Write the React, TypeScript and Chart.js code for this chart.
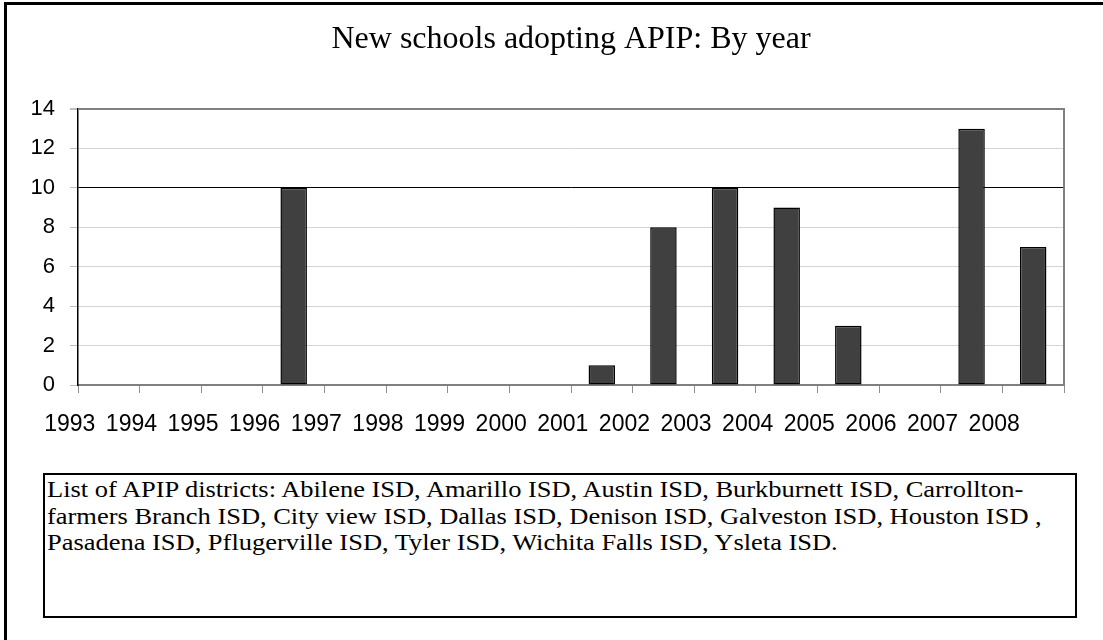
import React, { useEffect, useRef } from "react";
import { Chart, registerables } from "chart.js";

Chart.register(...registerables);

const TITLE = "New schools adopting APIP: By year";
const YEARS = ["1993", "1994", "1995", "1996", "1997", "1998", "1999", "2000", "2001", "2002", "2003", "2004", "2005", "2006", "2007", "2008"];
const NEW_SCHOOLS = [0, 0, 0, 10, 0, 0, 0, 0, 1, 8, 10, 9, 3, 0, 13, 7];
const Y_MIN = 0;
const Y_MAX = 14;
const Y_STEP = 2;
const HIGHLIGHT_LINE = 10;
const NOTE_LINES = [
  "List of APIP districts: Abilene ISD, Amarillo ISD, Austin ISD, Burkburnett ISD, Carrollton-",
  "farmers Branch ISD, City view ISD, Dallas ISD, Denison ISD, Galveston ISD, Houston ISD ,",
  "Pasadena ISD, Pflugerville ISD, Tyler ISD, Wichita Falls ISD, Ysleta ISD.",
];

const plotBorder = {
  id: "plotBorder",
  beforeDatasetsDraw(chart: any) {
    const { ctx, chartArea } = chart;
    ctx.save();
    ctx.strokeStyle = "#808080";
    ctx.lineWidth = 2;
    ctx.beginPath();
    ctx.moveTo(chartArea.left, chartArea.top);
    ctx.lineTo(chartArea.right, chartArea.top);
    ctx.lineTo(chartArea.right, chartArea.bottom);
    ctx.stroke();
    ctx.restore();
  },
};

export default function App() {
  const ref = useRef<HTMLCanvasElement | null>(null);

  useEffect(() => {
    if (!ref.current) return;
    const chart = new Chart(ref.current, {
      type: "bar",
      data: {
        labels: YEARS,
        datasets: [
          {
            data: NEW_SCHOOLS,
            backgroundColor: "#404040",
            borderColor: "#000000",
            borderWidth: (c: any) => (c.raw === 0 ? 0 : 1.5),
            borderSkipped: false,
            barPercentage: 0.43,
            categoryPercentage: 1,
          },
        ],
      },
      options: {
        responsive: false,
        animation: false,
        layout: { padding: { left: 0, right: 39, top: 0, bottom: 0 } },
        plugins: {
          legend: { display: false },
          tooltip: { enabled: false },
          title: {
            display: true,
            text: TITLE,
            fullSize: false,
            color: "#000",
            font: { family: "'Liberation Serif', 'Times New Roman', serif", size: 32, weight: "normal", lineHeight: 1.2 },
            padding: { top: 20, bottom: 50.6 },
          },
        },
        scales: {
          x: {
            offset: true,
            grid: {
              display: true,
              drawOnChartArea: false,
              drawTicks: true,
              tickLength: 8,
              offset: true,
              tickColor: "#909090",
            },
            border: { display: true, color: "#808080", width: 2 },
            ticks: {
              color: "#000",
              font: { family: "'Liberation Sans', Arial, sans-serif", size: 23 },
              padding: 18,
              labelOffset: -39,
              maxRotation: 0,
              autoSkip: false,
            },
            afterFit: (s: any) => {
              s.height = 85;
            },
          },
          y: {
            min: Y_MIN,
            max: Y_MAX,
            grid: {
              drawTicks: true,
              tickLength: 8,
              color: (c: any) =>
                c.tick && c.tick.value === HIGHLIGHT_LINE ? "#000000" : c.tick && c.tick.value === Y_MAX ? "#808080" : "#d4d4d4",
              lineWidth: (c: any) => (c.tick && c.tick.value === Y_MAX ? 2 : 1),
              tickColor: "#c0c0c0",
            },
            border: { display: true, color: "#000", width: 1.5 },
            ticks: {
              stepSize: Y_STEP,
              color: "#000",
              font: { family: "'Liberation Sans', Arial, sans-serif", size: 22 },
              padding: 15,
            },
            afterFit: (s: any) => {
              s.width = 78;
            },
          },
        },
      },
      plugins: [plotBorder],
    });
    return () => chart.destroy();
  }, []);

  return (
    <div style={{ position: "absolute", left: 0, top: 0, width: 1103, height: 640, overflow: "hidden", background: "#fff" }}>
      <div
        style={{
          position: "absolute",
          left: 4,
          top: 2,
          width: 1200,
          height: 800,
          border: "3px solid #000",
          boxSizing: "border-box",
        }}
      />
      <canvas ref={ref} width={1103} height={470} style={{ position: "absolute", left: 0, top: 0, width: 1103, height: 470 }} />
      <div
        style={{
          position: "absolute",
          left: 43,
          top: 473,
          width: 1034,
          height: 145,
          border: "2px solid #000",
          boxSizing: "border-box",
          padding: "2px 0 0 2px",
          overflow: "hidden",
        }}
      >
        <div
          style={{
            fontFamily: "'Liberation Serif', 'Times New Roman', serif",
            fontSize: 23,
            lineHeight: "26.5px",
            color: "#000",
            whiteSpace: "nowrap",
            transform: "scaleX(1.15)",
            transformOrigin: "0 0",
          }}
        >
          {NOTE_LINES.map((l, i) => (
            <div key={i}>{l}</div>
          ))}
        </div>
      </div>
    </div>
  );
}
